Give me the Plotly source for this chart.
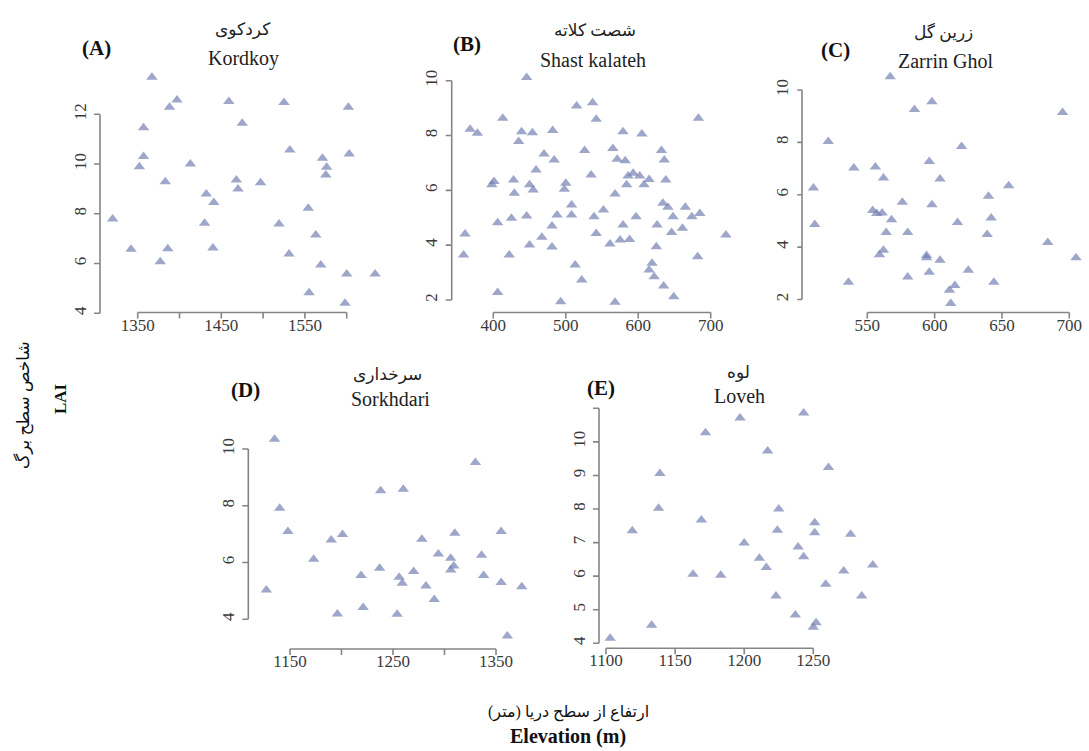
import plotly.graph_objects as go

W, H = 1089, 751

# ---- data: elevation (m) and leaf area index per site ----
kordkoy_elev = [1367, 1357, 1388, 1397, 1459, 1525, 1602, 1475, 1357, 1352, 1413, 1383,
                1468, 1470, 1497, 1532, 1603, 1571, 1576, 1575, 1432, 1441, 1320, 1430,
                1519, 1554, 1563, 1342, 1386, 1440, 1377, 1531, 1569, 1600, 1634, 1555, 1598]
kordkoy_lai = [13.49, 11.46, 12.28, 12.57, 12.51, 12.47, 12.28, 11.64, 10.30, 9.89, 10.00, 9.29,
               9.36, 9.00, 9.25, 10.56, 10.40, 10.23, 9.87, 9.56, 8.80, 8.45, 7.79, 7.62,
               7.59, 8.22, 7.15, 6.57, 6.60, 6.63, 6.07, 6.38, 5.94, 5.58, 5.58, 4.83, 4.40]

shast_elev = [446, 515, 537, 542, 413, 683, 368, 378, 439, 454, 482, 579, 605, 435, 526, 470,
              484, 565, 571, 582, 632, 636, 459, 535, 593, 602, 401, 398, 428, 429, 450, 455,
              500, 498, 584, 586, 608, 615, 638, 568, 508, 508, 552, 634, 641, 665, 648, 674,
              685, 488, 446, 425, 406, 481, 539, 579, 597, 626, 361, 542, 646, 661, 721, 467,
              450, 481, 561, 575, 588, 625, 359, 422, 682, 513, 619, 615, 622, 522, 635, 406,
              649, 493, 568]
shast_lai = [10.12, 9.08, 9.20, 8.59, 8.63, 8.63, 8.23, 8.08, 8.14, 8.10, 8.18, 8.14, 8.06,
             7.78, 7.45, 7.33, 7.11, 7.53, 7.13, 7.08, 7.45, 7.11, 6.74, 6.56, 6.62, 6.52,
             6.32, 6.20, 6.38, 5.89, 6.20, 6.01, 6.26, 6.04, 6.20, 6.52, 6.20, 6.40, 6.38,
             5.87, 5.47, 5.10, 5.28, 5.53, 5.38, 5.38, 5.04, 5.04, 5.16, 5.10, 5.06, 4.98,
             4.82, 4.70, 5.04, 4.74, 5.04, 4.74, 4.41, 4.43, 4.46, 4.62, 4.37, 4.29, 4.01,
             3.93, 4.04, 4.19, 4.21, 3.94, 3.64, 3.64, 3.58, 3.28, 3.34, 3.09, 2.85, 2.73,
             2.51, 2.27, 2.12, 1.94, 1.92]

zarrin_elev = [567, 598, 585, 695, 521, 620, 540, 556, 596, 562, 604, 510, 655, 640, 576,
               598, 554, 557, 561, 568, 617, 642, 511, 564, 580, 639, 684, 562, 559, 594,
               594, 604, 705, 580, 596, 625, 536, 644, 615, 611, 612]
zarrin_lai = [10.51, 9.55, 9.26, 9.14, 8.03, 7.84, 7.02, 7.06, 7.27, 6.64, 6.60, 6.26, 6.34,
              5.94, 5.71, 5.62, 5.40, 5.28, 5.30, 5.05, 4.94, 5.11, 4.86, 4.56, 4.56, 4.48,
              4.18, 3.88, 3.71, 3.68, 3.59, 3.50, 3.59, 2.86, 3.04, 3.12, 2.66, 2.66, 2.53,
              2.35, 1.85]

sorkh_elev = [1135, 1140, 1148, 1127, 1173, 1190, 1201, 1196, 1219, 1221, 1237, 1238, 1260,
              1256, 1259, 1254, 1270, 1278, 1282, 1290, 1294, 1306, 1306, 1309, 1310, 1330,
              1336, 1338, 1355, 1355, 1375, 1361]
sorkh_lai = [10.34, 7.91, 7.09, 5.03, 6.12, 6.79, 6.99, 4.19, 5.54, 4.42, 5.80, 8.53, 8.58,
             5.48, 5.27, 4.18, 5.68, 6.82, 5.17, 4.70, 6.30, 6.15, 5.74, 5.88, 7.03, 9.52,
             6.26, 5.54, 7.09, 5.30, 5.15, 3.41]

loveh_elev = [1103, 1119, 1133, 1139, 1138, 1163, 1169, 1172, 1183, 1197, 1200, 1211, 1216,
              1217, 1225, 1224, 1223, 1237, 1239, 1243, 1243, 1251, 1251, 1250, 1252, 1259,
              1261, 1272, 1277, 1285, 1293]
loveh_lai = [4.15, 7.35, 4.54, 9.06, 8.02, 6.06, 7.67, 10.27, 6.03, 10.71, 6.99, 6.53, 6.26,
             9.73, 8.00, 7.37, 5.41, 4.84, 6.87, 6.58, 10.86, 7.59, 7.29, 4.48, 4.61, 5.76,
             9.24, 6.15, 7.25, 5.41, 6.33]

# ---- tick values and labels ----
kordkoy_xticks = [1350, 1400, 1450, 1500, 1550, 1600]
kordkoy_xlabels = ["1350", "", "1450", "", "1550", ""]
kordkoy_yticks = [4, 6, 8, 10, 12]

shast_xticks = [400, 500, 600, 700]
shast_yticks = [2, 4, 6, 8, 10]

zarrin_xticks = [550, 600, 650, 700]
zarrin_yticks = [2, 4, 6, 8, 10]

sorkh_xticks = [1150, 1200, 1250, 1300, 1350]
sorkh_xlabels = ["1150", "", "1250", "", "1350"]
sorkh_yticks = [4, 6, 8, 10]

loveh_xticks = [1100, 1150, 1200, 1250]
loveh_yticks = [4, 5, 6, 7, 8, 9, 10, 11]
loveh_ylabels = ["4", "5", "6", "7", "8", "9", "10", ""]

panels = [
    dict(x=kordkoy_elev, y=kordkoy_lai, xt=kordkoy_xticks, xl=kordkoy_xlabels,
         yt=kordkoy_yticks, yl=None, tag="(A)", fa="کردکوی", en="Kordkoy"),
    dict(x=shast_elev, y=shast_lai, xt=shast_xticks, xl=None,
         yt=shast_yticks, yl=None, tag="(B)", fa="شصت کلاته", en="Shast kalateh"),
    dict(x=zarrin_elev, y=zarrin_lai, xt=zarrin_xticks, xl=None,
         yt=zarrin_yticks, yl=None, tag="(C)", fa="زرین گل", en="Zarrin Ghol"),
    dict(x=sorkh_elev, y=sorkh_lai, xt=sorkh_xticks, xl=sorkh_xlabels,
         yt=sorkh_yticks, yl=None, tag="(D)", fa="سرخداری", en="Sorkhdari"),
    dict(x=loveh_elev, y=loveh_lai, xt=loveh_xticks, xl=None,
         yt=loveh_yticks, yl=loveh_ylabels, tag="(E)", fa="لوه", en="Loveh"),
]

# pixel geometry of each panel's axes: x-axis span (left, right), x-axis line row,
# y-axis span (bottom, top), y-axis line column, and title anchor points
geometry = [
    dict(xspan=(137.7, 346.7), xline=312.5, yspan=(313.3, 114.3), yline=100.0,
         tag=(97, 48), fa=(243, 29), en=(243, 58)),
    dict(xspan=(493.3, 710.7), xline=312.5, yspan=(300.0, 80.7), yline=451.7,
         tag=(467, 44), fa=(595, 31), en=(593, 60)),
    dict(xspan=(867.3, 1069.3), xline=312.5, yspan=(299.5, 90.0), yline=802.0,
         tag=(835, 50), fa=(943, 32), en=(945, 61)),
    dict(xspan=(290.0, 496.0), xline=649.0, yspan=(619.3, 449.0), yline=248.3,
         tag=(245, 390), fa=(387, 375), en=(390, 399)),
    dict(xspan=(606.0, 813.3), xline=648.3, yspan=(643.3, 408.3), yline=599.0,
         tag=(601, 388), fa=(738, 372), en=(740, 396)),
]

PAD = 70      # extra pixels around each axis span where points may still fall
TICK_LEN = 6  # tick mark length in pixels


def fx(px):
    return px / W


def fy(py):
    return 1 - py / H


SERIF = "Liberation Serif, Times New Roman, serif"
ARABIC = "Liberation Serif, DejaVu Sans, serif"
AXIS_COL = "#858585"
AXIS_W = 1.6
TICK_FONT = dict(family=SERIF, size=17, color="#3a3a3a")
MARKER_COL = "rgba(112,126,176,0.68)"

fig = go.Figure()
layout = dict(width=W, height=H, margin=dict(l=0, r=0, t=0, b=0, autoexpand=False),
              paper_bgcolor="white", plot_bgcolor="rgba(0,0,0,0)", showlegend=False)
annotations = []
shapes = []

HIDDEN = dict(visible=False, fixedrange=True, showgrid=False, zeroline=False)
LINE = dict(color=AXIS_COL, width=AXIS_W)


def label(text, pos, font, **kw):
    return dict(text=text, x=fx(pos[0]), y=fy(pos[1]), xref="paper", yref="paper",
                xanchor="center", yanchor="middle", showarrow=False, font=font, **kw)


def label_axis(ticks, labels, dom, counter, **kw):
    return dict(
        domain=dom, range=[ticks[0], ticks[-1]], anchor=counter,
        showline=False, ticks="", tickvals=ticks,
        ticktext=labels if labels else [str(v) for v in ticks],
        tickfont=TICK_FONT, showgrid=False, zeroline=False, fixedrange=True, **kw)


axis_no = 0


def next_ids():
    global axis_no
    axis_no += 1
    n = "" if axis_no == 1 else str(axis_no)
    return "x" + n, "y" + n, "xaxis" + n, "yaxis" + n


for p, g in zip(panels, geometry):
    x0, x1 = g["xspan"]
    yb, yt = g["yspan"]

    # data subplot: same scale as the drawn axes, but spanning a wider box
    sx = (x1 - x0) / (p["xt"][-1] - p["xt"][0])
    dx0, dx1 = max(0, x0 - PAD), min(W, x1 + PAD)
    xr = [p["xt"][0] - (x0 - dx0) / sx, p["xt"][-1] + (dx1 - x1) / sx]
    sy = (yb - yt) / (p["yt"][-1] - p["yt"][0])
    dyt, dyb = max(0, yt - PAD), min(H, yb + PAD)
    yr = [p["yt"][0] - (dyb - yb) / sy, p["yt"][-1] + (yt - dyt) / sy]
    xline_y = p["yt"][0] - (g["xline"] - yb) / sy
    yline_x = p["xt"][0] - (x0 - g["yline"]) / sx

    xid, yid, xkey, ykey = next_ids()
    layout[xkey] = dict(domain=[fx(dx0), fx(dx1)], range=xr, anchor=yid, **HIDDEN)
    layout[ykey] = dict(domain=[fy(dyb), fy(dyt)], range=yr, anchor=xid, **HIDDEN)

    # axis lines spanning the first to the last tick, set off from the points
    fig.add_trace(go.Scatter(
        x=[p["xt"][0], p["xt"][-1], None, yline_x, yline_x],
        y=[xline_y, xline_y, None, p["yt"][0], p["yt"][-1]],
        mode="lines", line=LINE, cliponaxis=False, connectgaps=False,
        xaxis=xid, yaxis=yid, hoverinfo="skip",
    ))
    for v in p["xt"]:
        shapes.append(dict(type="line", xref=xid, yref=yid, ysizemode="pixel",
                           yanchor=xline_y, x0=v, x1=v, y0=0, y1=-TICK_LEN, line=LINE))
    for v in p["yt"]:
        shapes.append(dict(type="line", xref=xid, yref=yid, xsizemode="pixel",
                           xanchor=yline_x, x0=0, x1=-TICK_LEN, y0=v, y1=v, line=LINE))

    fig.add_trace(go.Scatter(
        x=p["x"], y=p["y"], mode="markers", cliponaxis=False,
        xaxis=xid, yaxis=yid, hoverinfo="skip",
        marker=dict(symbol="triangle-up", size=10, color=MARKER_COL, line=dict(width=0)),
    ))

    # elevation tick labels from an x axis resting on the line row
    xid, yid, xkey, ykey = next_ids()
    fig.add_trace(go.Scatter(x=[None], y=[None], mode="markers", xaxis=xid, yaxis=yid,
                             hoverinfo="skip"))
    layout[xkey] = label_axis(p["xt"], p["xl"], [fx(x0), fx(x1)], yid)
    layout[ykey] = dict(domain=[fy(g["xline"]), fy(g["xline"] - 20)], range=[0, 1],
                        anchor=xid, **HIDDEN)

    # LAI tick labels from a y axis beside the line column
    xid, yid, xkey, ykey = next_ids()
    fig.add_trace(go.Scatter(x=[None], y=[None], mode="markers", xaxis=xid, yaxis=yid,
                             hoverinfo="skip"))
    layout[xkey] = dict(domain=[fx(g["yline"]), fx(g["yline"] + 20)], range=[0, 1],
                        anchor=yid, **HIDDEN)
    layout[ykey] = label_axis(p["yt"], p["yl"], [fy(yb), fy(yt)], xid,
                              tickangle=-90, ticklabelstandoff=10)

    annotations.append(label("<b>" + p["tag"] + "</b>", g["tag"],
                             dict(family=SERIF, size=21, color="#111")))
    annotations.append(label(p["fa"], g["fa"], dict(family=ARABIC, size=17, color="#222")))
    annotations.append(label(p["en"], g["en"], dict(family=SERIF, size=20, color="#222")))

# shared axis titles
annotations += [
    label("شاخص سطح برگ", (24, 405), dict(family=ARABIC, size=17, color="#111"), textangle=-90),
    label("<b>LAI</b>", (61, 399), dict(family=SERIF, size=17, color="#111"), textangle=-90),
    label("ارتفاع از سطح دریا (متر)", (568, 712), dict(family=ARABIC, size=16, color="#111")),
    label("<b>Elevation (m)</b>", (568, 736), dict(family=SERIF, size=20, color="#111")),
]
layout["annotations"] = annotations
layout["shapes"] = shapes
fig.update_layout(**layout)

fig.write_html("out.html",
               post_script="document.body.style.margin='0';document.body.style.overflow='hidden';")
